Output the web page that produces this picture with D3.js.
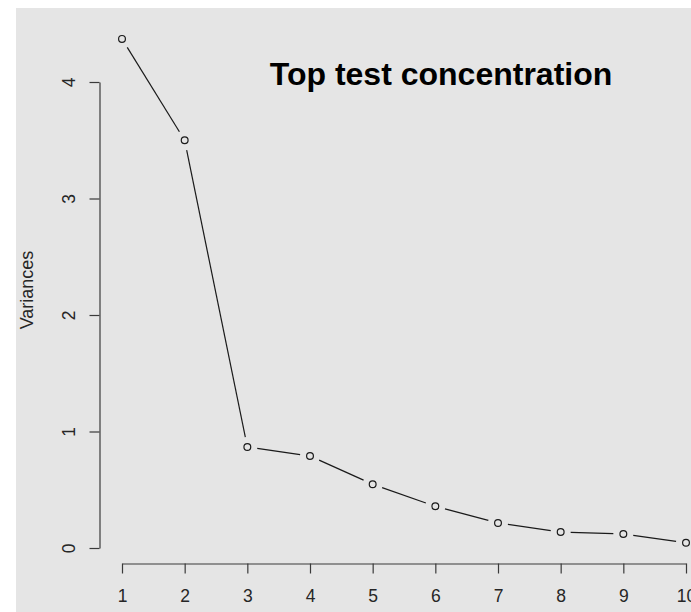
<!DOCTYPE html>
<html>
<head>
<meta charset="utf-8">
<script src="https://cdn.jsdelivr.net/npm/d3@7"></script>
<style>
  html, body { margin: 0; padding: 0; background: #ffffff; }
  svg { display: block; }
  text { font-family: "Liberation Sans", Arial, sans-serif; }
</style>
</head>
<body>
<script>
// Scree plot: variance explained by each principal component
const components = [1, 2, 3, 4, 5, 6, 7, 8, 9, 10];
const variances = [4.37, 3.50, 0.867, 0.79, 0.547, 0.358, 0.215, 0.137, 0.12, 0.045];
const yTicks = [0, 1, 2, 3, 4];
const xTicks = [1, 2, 3, 4, 5, 6, 7, 8, 9, 10];
const chartTitle = "Top test concentration";
const yLabel = "Variances";

const W = 691, H = 612;
const svg = d3.select("body").append("svg").attr("width", W).attr("height", H);

// panel background
svg.append("rect").attr("x", 16).attr("y", 8).attr("width", W - 16).attr("height", H - 8)
  .attr("fill", "#e5e5e5");

const x = d3.scaleLinear().domain([1, 10]).range([122, 686]);
const y = d3.scaleLinear().domain([0, 4]).range([548, 82]);

const axisColor = "#3a3a3a";
const textColor = "#262626";

// y axis (line spanning the ticks, labels rotated)
const yAxis = d3.axisLeft(y).tickValues(yTicks).tickSize(10).tickPadding(0).tickSizeOuter(0)
  .tickFormat(d3.format("d"));
const gy = svg.append("g").attr("transform", "translate(99.5,0)").call(yAxis);
gy.attr("font-family", null).attr("font-size", null);
gy.select(".domain").attr("stroke", axisColor).attr("stroke-width", 1.2);
gy.selectAll(".tick line").attr("stroke", axisColor).attr("stroke-width", 1.2);
gy.selectAll(".tick text")
  .attr("x", null).attr("dy", null)
  .attr("transform", "translate(-25,0) rotate(-90)")
  .attr("text-anchor", "middle")
  .style("font-size", "17.5px")
  .attr("fill", textColor);

// x axis
const xAxis = d3.axisBottom(x).tickValues(xTicks).tickSize(10).tickPadding(0).tickSizeOuter(0)
  .tickFormat(d3.format("d"));
const gx = svg.append("g").attr("transform", "translate(0,563.5)").call(xAxis);
gx.attr("font-family", null).attr("font-size", null);
gx.select(".domain").attr("stroke", axisColor).attr("stroke-width", 1.2);
gx.selectAll(".tick line").attr("stroke", axisColor).attr("stroke-width", 1.2);
gx.selectAll(".tick text")
  .attr("y", 38).attr("dy", null)
  .style("font-size", "17.5px")
  .attr("fill", textColor);

// connecting segments, broken around each point (type = "b")
const gap = 10;
const pts = components.map((c, i) => [x(c), y(variances[i])]);
const segs = [];
for (let i = 0; i < pts.length - 1; i++) {
  const [x0, y0] = pts[i], [x1, y1] = pts[i + 1];
  const dx = x1 - x0, dy = y1 - y0, len = Math.hypot(dx, dy);
  if (len > 2 * gap) {
    const ux = dx / len, uy = dy / len;
    segs.push([x0 + ux * gap, y0 + uy * gap, x1 - ux * gap, y1 - uy * gap]);
  }
}
svg.append("g").selectAll("line").data(segs).join("line")
  .attr("x1", d => d[0]).attr("y1", d => d[1])
  .attr("x2", d => d[2]).attr("y2", d => d[3])
  .attr("stroke", "#1a1a1a").attr("stroke-width", 1.2);

svg.append("g").selectAll("circle").data(components).join("circle")
  .attr("cx", (d) => x(d))
  .attr("cy", (d, i) => y(variances[i]))
  .attr("r", 3.4)
  .attr("fill", "none")
  .attr("stroke", "#1a1a1a")
  .attr("stroke-width", 1.2);

// title
svg.append("text").attr("x", 441).attr("y", 85)
  .attr("text-anchor", "middle")
  .style("font-size", "32px").attr("font-weight", "bold")
  .attr("fill", "#000")
  .text(chartTitle);

// y axis label
svg.append("text").attr("transform", "translate(33,290) rotate(-90)")
  .attr("text-anchor", "middle")
  .style("font-size", "18px")
  .attr("fill", textColor)
  .text(yLabel);
</script>
</body>
</html>
